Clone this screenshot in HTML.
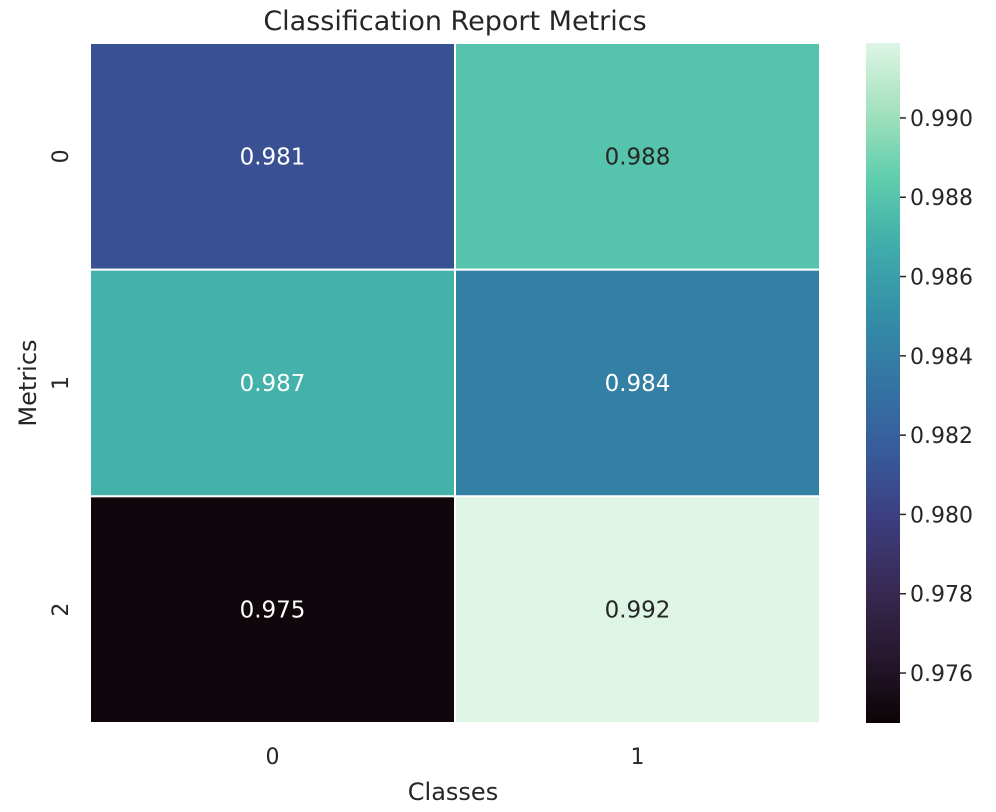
<!DOCTYPE html>
<html><head><meta charset="utf-8"><style>
body{margin:0;background:#fff;font-family:"DejaVu Sans","Liberation Sans",sans-serif;}
</style></head><body>
<svg id="chart" width="996" height="808" xmlns="http://www.w3.org/2000/svg" font-family="DejaVu Sans, Liberation Sans, sans-serif">
<defs><linearGradient id="cbg" x1="0" y1="1" x2="0" y2="0"></linearGradient></defs>
<text x="455" y="30" font-size="27" text-anchor="middle" fill="#262626">Classification Report Metrics</text>
<text x="453" y="800" font-size="24" text-anchor="middle" fill="#262626">Classes</text>
<text transform="translate(36,383) rotate(-90)" font-size="24" text-anchor="middle" fill="#262626">Metrics</text>
<g id="cells"></g><g id="xt"></g><g id="yt"></g>
<rect x="866" y="43" width="34" height="680" fill="url(#cbg)"/>
<g id="ct"></g>
</svg>
<script>
const classes=["0","1"];
const metrics=["0","1","2"];
const values=[[0.981,0.988],[0.987,0.984],[0.975,0.992]];
const cbTicks=[0.976,0.978,0.980,0.982,0.984,0.986,0.988,0.990];
const vmin=0.97474, vmax=0.99189;
const stops=[[0,"#0b0405"],[0.1,"#27182f"],[0.2,"#382a54"],[0.3,"#3d3e80"],[0.4,"#375b9b"],[0.5,"#3474a2"],[0.6,"#348fa7"],[0.7,"#40acab"],[0.8,"#5ecdac"],[0.9,"#a4e1be"],[1,"#def5e5"]];
function hex(h){return [1,3,5].map(i=>parseInt(h.substr(i,2),16));}
function cmap(t){t=Math.max(0,Math.min(1,t));for(let i=1;i<stops.length;i++){if(t<=stops[i][0]){const a=stops[i-1],b=stops[i];const f=(t-a[0])/(b[0]-a[0]);const ca=hex(a[1]),cb=hex(b[1]);return "rgb("+ca.map((v,k)=>Math.round(v+(cb[k]-v)*f)).join(",")+")";}}return stops[stops.length-1][1];}
const NS="http://www.w3.org/2000/svg";
const X0=90,X1=820,Y0=43,Y1=723;
const cw=(X1-X0)/classes.length, ch=(Y1-Y0)/metrics.length;
const xs=i=>X0+i*cw, ys=j=>Y0+j*ch;
const cy=v=>Y1-(v-vmin)/(vmax-vmin)*(Y1-Y0);
function mk(tag,attrs,par){const e=document.createElementNS(NS,tag);for(const k in attrs)e.setAttribute(k,attrs[k]);document.getElementById(par).appendChild(e);return e;}
const g=document.getElementById("cbg");
stops.forEach(s=>{const st=document.createElementNS(NS,"stop");st.setAttribute("offset",s[0]);st.setAttribute("stop-color",s[1]);g.appendChild(st);});
metrics.forEach((m,j)=>classes.forEach((c,i)=>{
 const v=values[j][i];const t=(v-vmin)/(vmax-vmin);
 const r=mk("rect",{x:xs(i),y:ys(j),width:cw,height:ch,fill:cmap(t),stroke:"#fff","stroke-width":2},"cells");
 
 
 const tx=mk("text",{x:xs(i)+cw/2,y:ys(j)+ch/2+8,"font-size":23,"text-anchor":"middle",fill:t>0.75?"#262626":"#ffffff"},"cells");
 tx.textContent=v.toFixed(3);
 
 
}));
classes.forEach((c,i)=>{const t=mk("text",{x:xs(i)+cw/2,y:764,"font-size":22,"text-anchor":"middle",fill:"#262626"},"xt");t.textContent=c;
 
 });
metrics.forEach((m,j)=>{const yy=ys(j)+ch/2;const t=mk("text",{transform:`translate(68,${yy}) rotate(-90)`,"font-size":22,"text-anchor":"middle",fill:"#262626"},"yt");t.textContent=m;
 
 });
cbTicks.forEach(v=>{const y=cy(v);
 const l=mk("line",{x1:900,x2:906,y1:y,y2:y,stroke:"#262626","stroke-width":1.5},"ct");
 
 
 const t=mk("text",{x:910,y:y+8,"font-size":22,fill:"#262626"},"ct");t.textContent=v.toFixed(3);
 
 });
</script>
</body></html>
